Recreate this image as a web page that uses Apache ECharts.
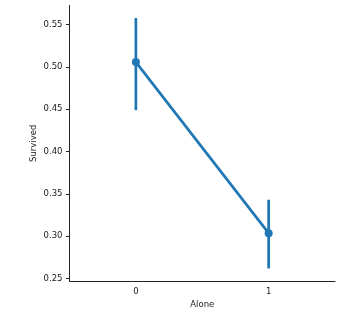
<!DOCTYPE html>
<html><head><meta charset="utf-8">
<script src="https://cdn.jsdelivr.net/npm/echarts@6/dist/echarts.min.js"></script>
<style>html,body{margin:0;padding:0;background:#fff}#c{width:353px;height:317px}</style>
</head><body><div id="c"></div>
<script>
const categories = ['0', '1'];
const survived = [0.5056, 0.3035];
const ciLow = [0.4488, 0.2618];
const ciHigh = [0.5576, 0.3430];
const yTicks = [0.25, 0.30, 0.35, 0.40, 0.45, 0.50, 0.55];

const chart = echarts.init(document.getElementById('c'));
const txt = {color: '#1a1a1a', fontFamily: 'DejaVu Sans', fontSize: 8.5};
const blue = '#1f77b4';
chart.setOption({
  animation: false,
  grid: {left: 69.5, right: 18, top: 5.5, bottom: 36},
  xAxis: {
    type: 'category', data: categories, boundaryGap: true,
    name: 'Alone', nameLocation: 'middle', nameGap: 19, nameMoveOverlap: false,
    nameTextStyle: Object.assign({}, txt),
    axisLine: {lineStyle: {color: '#222', width: 1}},
    axisTick: {alignWithLabel: true, length: 3.5, lineStyle: {color: '#222'}},
    axisLabel: Object.assign({margin: 6}, txt),
    splitLine: {show: false}
  },
  yAxis: {
    type: 'value', min: 0.2470, max: 0.5724,
    name: 'Survived', nameLocation: 'middle', nameGap: 31, nameMoveOverlap: false,
    nameTextStyle: Object.assign({}, txt),
    axisLine: {show: true, lineStyle: {color: '#222', width: 1}},
    axisTick: {show: true, length: 3.5, customValues: yTicks, lineStyle: {color: '#222'}},
    axisLabel: Object.assign({margin: 7, customValues: yTicks, formatter: v => v.toFixed(2)}, txt),
    splitLine: {show: false}
  },
  series: [
    {
      type: 'custom',
      data: categories.map((c, i) => [i, ciLow[i], ciHigh[i]]),
      renderItem: function (params, api) {
        const a = api.coord([api.value(0), api.value(1)]);
        const b = api.coord([api.value(0), api.value(2)]);
        return {type: 'line', shape: {x1: a[0], y1: a[1], x2: b[0], y2: b[1]},
          style: {stroke: blue, lineWidth: 2.7}};
      },
      z: 2
    },
    {
      type: 'line', data: survived,
      symbol: 'circle', symbolSize: 8,
      lineStyle: {color: blue, width: 2.7},
      itemStyle: {color: blue},
      z: 3
    }
  ]
});
</script></body></html>
